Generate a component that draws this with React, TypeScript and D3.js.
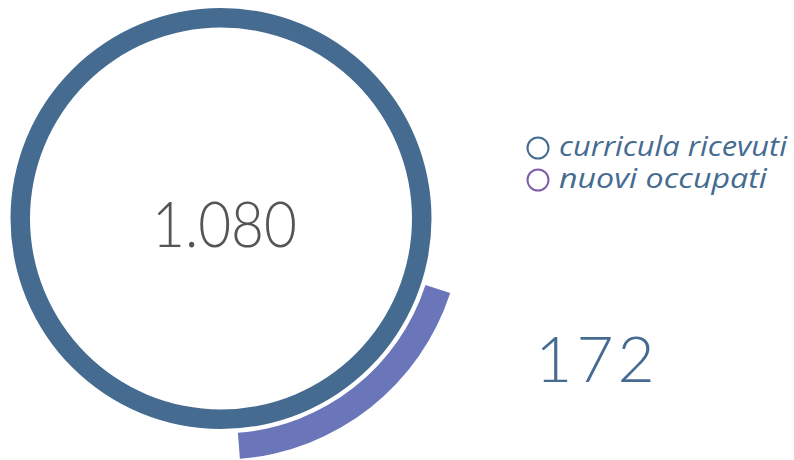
import React from "react";
import * as d3 from "d3";

const seriesNames = ["curricula ricevuti", "nuovi occupati"];
const seriesValues = [1080, 172];
const seriesColors = ["#456b91", "#6a76b9"];
const legendColors = ["#456b91", "#7d5ea8"];
const valueLabels = ["1.080", "172"];
const legendWidths = [228, 208];

// angular extent (degrees, clockwise from top)
const arcStartDeg = 108;
const arcEndDeg = 175.5;

export default function App() {
  const W = 794, H = 460;
  const cx = 221, cy = 218.5;
  const ang = d3.scaleLinear().domain([0, 360]).range([0, 2 * Math.PI]);

  const ring = d3.arc<any>()({
    innerRadius: 191,
    outerRadius: 210.5,
    startAngle: 0,
    endAngle: ang(360),
  } as any) as string;

  const outer = d3.arc<any>()({
    innerRadius: 215,
    outerRadius: 241,
    startAngle: ang(arcStartDeg),
    endAngle: ang(arcEndDeg),
  } as any) as string;

  return (
    <svg width={W} height={H} style={{ position: "absolute", left: 0, top: 0 }}>
      <rect width={W} height={H} fill="#fff" />
      <g transform={`translate(${cx},${cy})`}>
        <path d={ring} fill={seriesColors[0]} />
        <path d={outer} fill={seriesColors[1]} />
      </g>
      <text x={152} y={247} fontFamily="Lato" fontWeight={300}
        fontSize={64} fill="#555" textLength={145} lengthAdjust="spacingAndGlyphs">{valueLabels[0]}</text>
      <text x={597} y={382} textAnchor="middle" fontFamily="Lato" fontWeight={300}
        fontSize={64} fill={seriesColors[0]} letterSpacing={4}>{valueLabels[1]}</text>
      {seriesNames.map((n, i) => (
        <g key={n} transform={`translate(0,${148 + i * 32})`}>
          <circle cx={538} cy={0} r={10.5} fill="none" stroke={legendColors[i]} strokeWidth={2} />
          <text x={559} y={8} fontFamily="'Open Sans'" fontStyle="italic" fontWeight={400} fontSize={27}
            fill={seriesColors[0]} textLength={legendWidths[i]} lengthAdjust="spacingAndGlyphs">{n}</text>
        </g>
      ))}
    </svg>
  );
}
